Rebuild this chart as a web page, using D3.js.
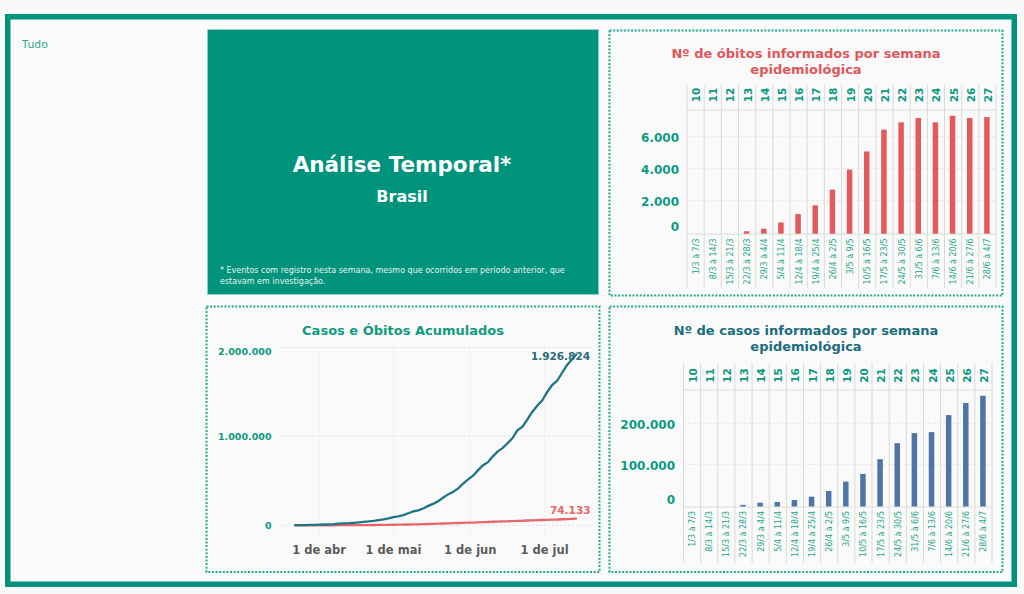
<!DOCTYPE html>
<html><head><meta charset="utf-8">
<script src="https://cdn.jsdelivr.net/npm/d3@7"></script>
<style>
html,body{margin:0;padding:0;background:#f9f9f9;}
svg{display:block;font-family:"DejaVu Sans",Verdana,sans-serif;}
</style></head><body>
<svg id="c" width="1024" height="594"></svg>
<script>
// ---------- DATA ----------
const weeks = ["10","11","12","13","14","15","16","17","18","19","20","21","22","23","24","25","26","27"];
const weekRanges = ["1/3 à 7/3","8/3 à 14/3","15/3 à 21/3","22/3 à 28/3","29/3 à 4/4","5/4 à 11/4","12/4 à 18/4","19/4 à 25/4","26/4 à 2/5","3/5 à 9/5","10/5 à 16/5","17/5 à 23/5","24/5 à 30/5","31/5 à 6/6","7/6 à 13/6","14/6 à 20/6","21/6 à 27/6","28/6 à 4/7"];
const weeklyDeaths = [0,0,0,90,250,640,1170,1710,2690,3940,5080,6440,6900,7170,6900,7310,7170,7230];
const weeklyCases = [0,0,0,1500,6800,8500,13400,21500,35400,58000,76800,112700,151700,176100,178500,220000,249300,267000];
const deathTicks = [0,2000,4000,6000];
const caseTicks = [0,100000,200000];

const cumDates = ["2020-03-22","2020-03-24","2020-03-26","2020-03-28","2020-03-30","2020-04-01","2020-04-03","2020-04-05","2020-04-07","2020-04-09","2020-04-11","2020-04-13","2020-04-15","2020-04-17","2020-04-19","2020-04-21","2020-04-23","2020-04-25","2020-04-27","2020-04-29","2020-05-01","2020-05-03","2020-05-05","2020-05-07","2020-05-09","2020-05-11","2020-05-13","2020-05-15","2020-05-17","2020-05-19","2020-05-21","2020-05-23","2020-05-25","2020-05-27","2020-05-29","2020-05-31","2020-06-02","2020-06-04","2020-06-06","2020-06-08","2020-06-10","2020-06-12","2020-06-14","2020-06-16","2020-06-18","2020-06-20","2020-06-22","2020-06-24","2020-06-26","2020-06-28","2020-06-30","2020-07-02","2020-07-04","2020-07-06","2020-07-08","2020-07-10","2020-07-12","2020-07-14"];
const cumCases = [1546,2201,2915,3904,4579,6836,9056,11130,13717,17857,20727,23430,28320,33682,38654,43079,49492,58509,66501,78162,91589,101147,114715,135106,155939,168331,188974,218223,241080,271628,310087,347398,374898,411821,465166,514849,555383,614941,672846,707412,772416,828810,867624,923189,978142,1067579,1106470,1188631,1274974,1344143,1402041,1496858,1577004,1623284,1713160,1800827,1864681,1926824];
const cumDeaths = [25,46,77,114,159,240,359,486,667,941,1124,1328,1736,2141,2462,2741,3313,4016,4543,5466,6329,7025,7921,9146,10627,11519,13149,14817,16118,17971,20047,22013,23473,25598,27878,29314,31199,34021,35930,37134,39680,41828,43332,45241,47748,49976,51271,53830,55961,57622,59594,61884,64265,65487,67964,70398,72100,74133];
const cumTicks = [0,1000000,2000000];
const monthTicks = ["2020-04-01","2020-05-01","2020-06-01","2020-07-01"];
const monthLabels = ["1 de abr","1 de mai","1 de jun","1 de jul"];

// ---------- SETUP ----------
const ptBR = d3.formatLocale({decimal:",", thousands:".", grouping:[3], currency:["R$",""]});
const fmt = ptBR.format(",d");
const parse = d3.timeParse("%Y-%m-%d");
const svg = d3.select("#c");
const TEAL = "#00937b";

svg.append("rect").attr("width",1024).attr("height",594).attr("fill","#f9f9f9");
// outer frame
svg.append("rect").attr("x",7.75).attr("y",16.75).attr("width",1006.5).attr("height",567.5)
  .attr("fill","#fafafa").attr("stroke",TEAL).attr("stroke-width",5.5);
svg.append("text").attr("x",22).attr("y",43).attr("dominant-baseline","central")
  .attr("font-size",11).attr("fill","#22a78b").attr("font-family","'Noto Sans',sans-serif").text("Tudo");

// teal info box
svg.append("rect").attr("x",207.5).attr("y",29.5).attr("width",391).attr("height",265)
  .attr("fill",TEAL).attr("stroke","#8fd0c2").attr("stroke-width",1);
svg.append("text").attr("x",402).attr("y",164.5).attr("text-anchor","middle").attr("dominant-baseline","central")
  .attr("font-size",21.5).attr("font-weight","bold").attr("fill","#fff").text("Análise Temporal*");
svg.append("text").attr("x",402).attr("y",196.5).attr("text-anchor","middle").attr("dominant-baseline","central")
  .attr("font-size",16).attr("font-weight","bold").attr("fill","#fff").text("Brasil");
svg.append("text").attr("x",220).attr("y",270).attr("dominant-baseline","central")
  .attr("font-size",8).attr("fill","#e8f5f1").text("* Eventos com registro nesta semana, mesmo que ocorridos em período anterior, que");
svg.append("text").attr("x",220).attr("y",281.5).attr("dominant-baseline","central")
  .attr("font-size",8).attr("fill","#e8f5f1").text("estavam em investigação.");

// dotted panels
function panel(x0,y0,x1,y1){
  svg.append("rect").attr("x",x0).attr("y",y0).attr("width",x1-x0).attr("height",y1-y0)
    .attr("fill","none").attr("stroke","#21a98d").attr("stroke-width",2).attr("stroke-dasharray","2,1.6");
}
panel(609.5,30.5,1002.5,295.5);
panel(609.5,306.5,1002.5,572);
panel(206.5,306.5,599.5,572);

// ---------- BAR CHART ----------
function barChart(o){
  const g = svg.append("g");
  const x = d3.scaleBand().domain(weeks).range([o.x0,o.x1]);
  const y = d3.scaleLinear().domain([0,o.ticks[o.ticks.length-1]]).range(o.yr);
  o.title.forEach((t,i)=>{
    g.append("text").attr("x",806).attr("y",o.titleY[i]).attr("text-anchor","middle").attr("dominant-baseline","central")
     .attr("font-size",13).attr("font-weight","bold").attr("fill",o.titleColor).text(t);
  });
  g.selectAll(".gl").data(o.ticks.filter(d=>d>0)).join("line")
    .attr("x1",o.x0).attr("x2",o.x1).attr("y1",d=>y(d)).attr("y2",d=>y(d))
    .attr("stroke","#e6e6e6").attr("stroke-dasharray","3,2");
  const edges = weeks.map(w=>x(w)).concat([o.x1]);
  g.selectAll(".cl").data(edges).join("line")
    .attr("x1",d=>d+0.5).attr("x2",d=>d+0.5).attr("y1",o.hTop).attr("y2",o.colBottom)
    .attr("stroke","#d9d9d9").attr("stroke-width",1);
  g.append("line").attr("x1",o.x0).attr("x2",o.x1).attr("y1",o.hBottom).attr("y2",o.hBottom).attr("stroke","#dcdcdc");
  g.append("line").attr("x1",o.x0).attr("x2",o.x1).attr("y1",y(0)+1.5).attr("y2",y(0)+1.5).attr("stroke","#dcdcdc");
  g.selectAll(".yl").data(o.ticks).join("text")
    .attr("x",o.yLabelX).attr("y",d=>y(d)+(d===0?-5.5:1.2)).attr("text-anchor","end").attr("dominant-baseline","central")
    .attr("font-size",12).attr("font-weight","bold").attr("fill","#0a9a80").text(d=>fmt(d));
  g.selectAll(".bar").data(o.values.map((v,i)=>({w:weeks[i],v})).filter(d=>d.v>0)).join("rect")
    .attr("x",d=>x(d.w)+x.bandwidth()/2-2.75).attr("width",5.5)
    .attr("y",d=>y(d.v)).attr("height",d=>y(0)-y(d.v)+1)
    .attr("fill",o.barColor);
  g.selectAll(".wk").data(weeks).join("text")
    .attr("transform",d=>`translate(${x(d)+x.bandwidth()/2+1},${o.weekY}) rotate(-90)`)
    .attr("text-anchor","middle").attr("dominant-baseline","central")
    .attr("font-size",10.5).attr("font-weight","bold").attr("fill","#0a9a80").text(d=>d);
  g.selectAll(".dr").data(weekRanges).join("text")
    .attr("transform",(d,i)=>`translate(${x(weeks[i])+x.bandwidth()/2+1},${o.dateY}) rotate(-90)`)
    .attr("text-anchor","end").attr("dominant-baseline","central")
    .attr("font-size",8).attr("fill","#22a78b").text(d=>d);
}

barChart({x0:686.5,x1:995.5,yr:[232.7,136.7],ticks:deathTicks,values:weeklyDeaths,
  title:["Nº de óbitos informados por semana","epidemiológica"],titleY:[53,69.5],titleColor:"#e0575b",
  barColor:"#e35a5d",hTop:85,hBottom:110,colBottom:288,weekY:95,dateY:238.5,yLabelX:679});
barChart({x0:683,x1:991.5,yr:[505.5,423.3],ticks:caseTicks,values:weeklyCases,
  title:["Nº de casos informados por semana","epidemiológica"],titleY:[330,346.5],titleColor:"#1b6d7d",
  barColor:"#4f75a6",hTop:363,hBottom:390,colBottom:563,weekY:375.5,dateY:511,yLabelX:675});

// ---------- CUMULATIVE LINE CHART ----------
(function(){
  const g = svg.append("g");
  const x = d3.scaleTime().domain([new Date(2020,2,16),new Date(2020,6,20)]).range([279.5,591.7]);
  const y = d3.scaleLinear().domain([0,2000000]).range([525.3,347.5]);
  g.append("text").attr("x",403).attr("y",330).attr("text-anchor","middle").attr("dominant-baseline","central")
    .attr("font-size",13).attr("font-weight","bold").attr("fill","#119b80").text("Casos e Óbitos Acumulados");
  g.selectAll(".hg").data(cumTicks).join("line")
    .attr("x1",280).attr("x2",592).attr("y1",d=>y(d)).attr("y2",d=>y(d))
    .attr("stroke","#e2e2e2").attr("stroke-dasharray","2,2");
  g.selectAll(".vg").data(monthTicks).join("line")
    .attr("x1",d=>x(parse(d))).attr("x2",d=>x(parse(d))).attr("y1",347).attr("y2",540)
    .attr("stroke","#ececec").attr("stroke-dasharray","2,2");
  g.selectAll(".yl").data(cumTicks).join("text")
    .attr("x",271.5).attr("y",d=>y(d)+(d===2000000?4:0.5)).attr("text-anchor","end").attr("dominant-baseline","central")
    .attr("font-size",9.5).attr("font-weight","bold").attr("fill","#0a9a80").text(d=>fmt(d));
  g.selectAll(".xl").data(monthTicks).join("text")
    .attr("x",d=>x(parse(d))).attr("y",550).attr("text-anchor","middle").attr("dominant-baseline","central")
    .attr("font-size",11.5).attr("font-weight","bold").attr("fill","#5a5a5a").text((d,i)=>monthLabels[i]);
  const dates = cumDates.map(parse);
  const lineC = d3.line().x((d,i)=>x(dates[i])).y(d=>y(d));
  g.append("path").datum(cumDeaths).attr("d",lineC).attr("fill","none").attr("stroke","#e8656a").attr("stroke-width",2.3);
  g.append("path").datum(cumCases).attr("d",lineC).attr("fill","none").attr("stroke","#1f7585").attr("stroke-width",2.3);
  g.append("text").attr("x",590).attr("y",355.5).attr("text-anchor","end").attr("dominant-baseline","central")
    .attr("font-size",10.5).attr("font-weight","bold").attr("fill","#2a6c7e").text(fmt(cumCases[cumCases.length-1]));
  g.append("text").attr("x",590.5).attr("y",510).attr("text-anchor","end").attr("dominant-baseline","central")
    .attr("font-size",10.5).attr("font-weight","bold").attr("fill","#e8656a").text(fmt(cumDeaths[cumDeaths.length-1]));
})();
</script>
</body></html>
